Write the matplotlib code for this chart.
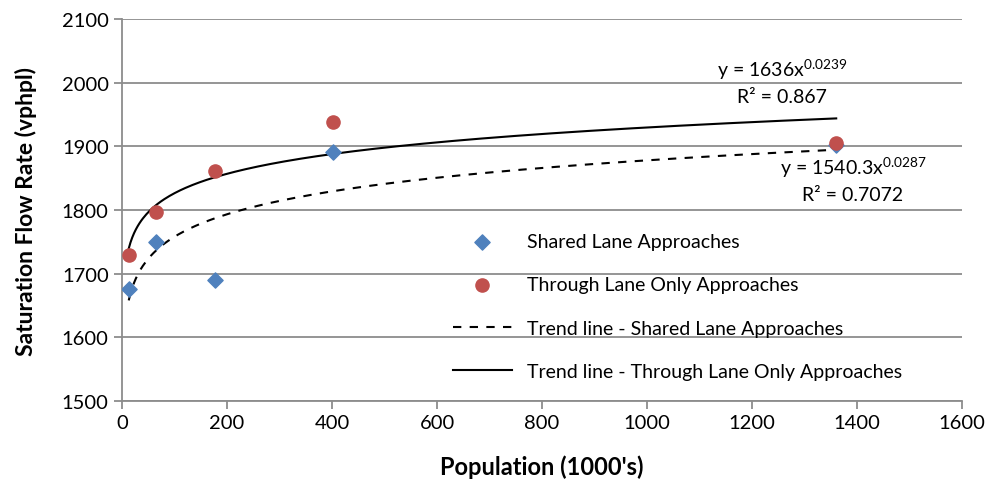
import numpy as np
import matplotlib
matplotlib.use("Agg")
import matplotlib.pyplot as plt

plt.rcParams['font.family'] = ['Lato', 'DejaVu Sans']
plt.rcParams['mathtext.fontset'] = 'custom'
plt.rcParams['mathtext.rm'] = 'Lato'
plt.rcParams['mathtext.it'] = 'Lato'

# population (1000's) and saturation flow rate (vphpl)
shared_x = [13, 65, 177, 402, 1360]
shared_y = [1676, 1750, 1690, 1891, 1902]
through_x = [13, 65, 177, 402, 1360]
through_y = [1729, 1797, 1861, 1938, 1905]

# power trend line coefficients shown on chart
shared_a, shared_b = 1540.3, 0.0287
through_a, through_b = 1636, 0.0239

grid_c = '#8c8c8c'

fig = plt.figure(figsize=(9.91, 4.89), dpi=100)
ax = fig.add_axes([0.123, 0.178, 0.848, 0.781])

ax.scatter(shared_x, shared_y, marker='D', s=60, color='#4f81bd', zorder=3,
           label='Shared Lane Approaches')
ax.scatter(through_x, through_y, marker='o', s=90, color='#c0504d', zorder=3,
           label='Through Lane Only Approaches')

xs = np.linspace(min(shared_x), max(shared_x), 400)
ax.plot(xs, shared_a * xs ** shared_b, color='black', lw=1.5, ls=(0, (4, 4)),
        zorder=2, label='Trend line - Shared Lane Approaches')
xt = np.linspace(min(through_x), max(through_x), 400)
ax.plot(xt, through_a * xt ** through_b, color='black', lw=1.5, zorder=2,
        label='Trend line - Through Lane Only Approaches')

ax.set_xlim(0, 1600)
ax.set_ylim(1500, 2100)
ax.set_xticks(range(0, 1601, 200))
ax.set_yticks(range(1500, 2101, 100))
ax.grid(axis='y', color=grid_c, lw=1.3)
ax.set_axisbelow(True)
for s in ['top', 'right']:
    ax.spines[s].set_visible(False)
for s in ['left', 'bottom']:
    ax.spines[s].set_color(grid_c)
    ax.spines[s].set_linewidth(1.3)
ax.tick_params(axis='both', colors=grid_c, width=1.3, length=6, labelsize=14.5,
               labelcolor='black')

ax.set_xlabel("Population (1000's)", fontsize=17, fontweight='bold', labelpad=17)
ax.set_ylabel("Saturation Flow Rate (vphpl)", fontsize=16.5, fontweight='bold', labelpad=18)

ax.text(1257, 2021, r'y = 1636x$^{0.0239}$', fontsize=14, ha='center', va='center')
ax.text(1257, 1979, r'R² = 0.867', fontsize=14, ha='center', va='center')
ax.text(1392, 1868, r'y = 1540.3x$^{0.0287}$', fontsize=14, ha='center', va='center')
ax.text(1392, 1825, r'R² = 0.7072', fontsize=14, ha='center', va='center')

leg = ax.legend(loc='upper left', bbox_to_anchor=(0.385, 0.46), frameon=False,
                fontsize=14, handlelength=3.0, handletextpad=0.8, labelspacing=1.35,
                scatterpoints=1, borderaxespad=0)

fig.savefig('out.png', dpi=100)
